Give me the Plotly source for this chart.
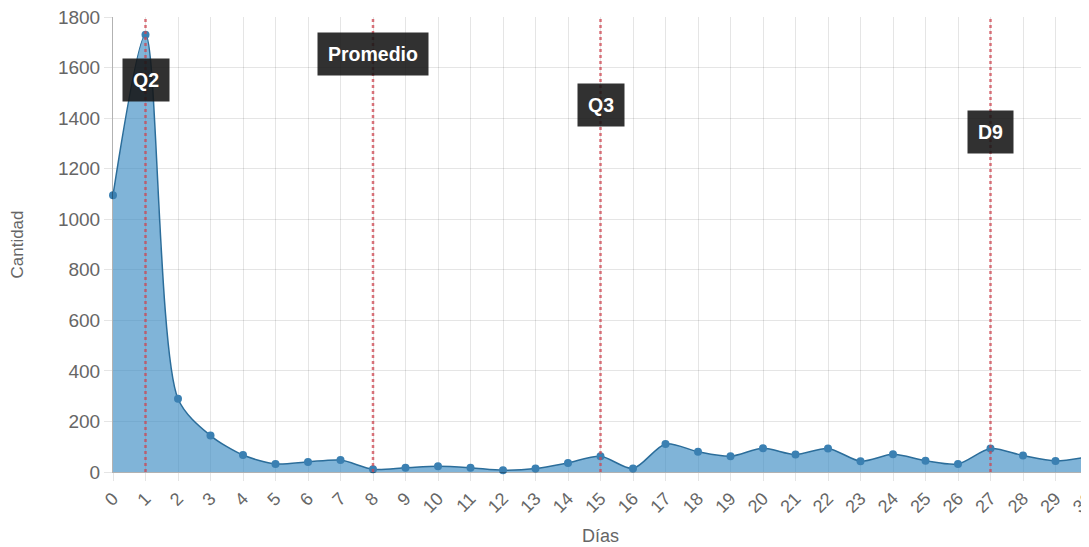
import plotly.graph_objects as go

days = list(range(31))
cantidad = [1095, 1730, 290, 144, 67, 32, 40, 47, 11, 17, 23, 17, 7, 14, 36, 62,
            14, 111, 80, 62, 94, 69, 93, 43, 70, 45, 32, 93, 65, 44, 60]

marker_labels = ["Q2", "Promedio", "Q3", "D9"]
marker_days = [1, 8, 15, 27]
marker_label_y = [1550, 1655, 1452, 1345]

font_family = "Liberation Sans, Arial, sans-serif"

fig = go.Figure()
fig.add_trace(go.Scatter(
    x=days, y=cantidad, mode="lines+markers",
    line=dict(color="#2b6d9a", width=1.5, shape="spline", smoothing=0.8),
    marker=dict(color="#3b80b2", size=8),
    fill="tozeroy", fillcolor="rgba(60,140,195,0.65)",
    cliponaxis=False, showlegend=False,
))

for lbl, d, ly in zip(marker_labels, marker_days, marker_label_y):
    fig.add_vline(x=d, line=dict(color="rgba(205,70,80,0.75)", width=2.5, dash="dot"))
    fig.add_annotation(
        x=d, y=ly, text="<b>" + lbl + "</b>", showarrow=False,
        font=dict(color="white", size=19.5, family=font_family),
        bgcolor="rgba(20,20,20,0.88)", borderpad=10,
    )

fig.update_layout(
    width=1081, height=539,
    margin=dict(l=105, r=1, t=9, b=75),
    plot_bgcolor="white", paper_bgcolor="white",
    font=dict(family=font_family, color="#666", size=18),
    xaxis=dict(
        range=[0, 30], tickmode="array", tickvals=days,
        ticktext=[str(d) for d in days], tickangle=-45,
        showgrid=True, gridcolor="rgba(0,0,0,0.1)", gridwidth=1,
        showline=True, linecolor="rgba(0,0,0,0.3)",
        ticks="outside", ticklen=8, tickcolor="rgba(0,0,0,0.1)",
        tickfont=dict(size=18, color="#666"), ticklabeloverflow="allow",
        title=dict(text="Días", font=dict(size=18, color="#666"), standoff=13),
        zeroline=False, automargin=False,
    ),
    yaxis=dict(
        range=[0, 1800], dtick=200,
        showgrid=True, gridcolor="rgba(0,0,0,0.1)", gridwidth=1,
        showline=True, linecolor="rgba(0,0,0,0.3)",
        ticks="outside", ticklen=8, tickcolor="rgba(0,0,0,0.1)",
        tickfont=dict(size=19, color="#666"), ticklabeloverflow="allow",
        title=dict(text="Cantidad", font=dict(size=17, color="#666"), standoff=32),
        zeroline=False, automargin=False,
    ),
)

fig.write_html("out.html")
